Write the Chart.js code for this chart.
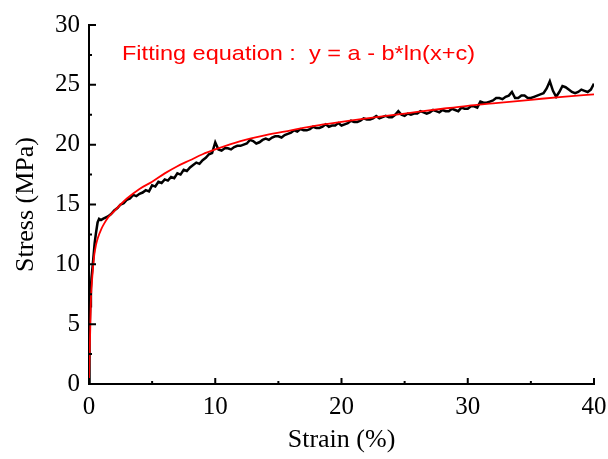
<!DOCTYPE html>
<html>
<head>
<meta charset="utf-8">
<script src="https://cdn.jsdelivr.net/npm/chart.js"></script>
<style>
  body { margin: 0; background: #fff; }
</style>
</head>
<body>
<canvas id="chart" width="608" height="459"></canvas>
<script>
// measured stress-strain curve (noisy, black)
const strainTest = [0, 0.03, 0.05, 0.1, 0.15, 0.2, 0.3, 0.36, 0.45, 0.55, 0.68, 0.8, 0.95, 1.1, 1.3, 1.5, 1.75,
  2, 2.25, 2.5, 2.75, 3, 3.25, 3.5, 3.75, 4, 4.25, 4.5, 4.75, 5, 5.25, 5.5, 5.75, 6, 6.25, 6.5, 6.75,
  7, 7.25, 7.5, 7.75, 8, 8.25, 8.5, 8.75, 9, 9.25, 9.5, 9.75, 10, 10.25, 10.5, 10.75, 11, 11.25, 11.5, 11.75,
  12, 12.25, 12.5, 12.75, 13, 13.25, 13.5, 13.75, 14, 14.25, 14.5, 14.75, 15, 15.25, 15.5, 15.75,
  16, 16.25, 16.5, 16.75, 17, 17.25, 17.5, 17.75, 18, 18.25, 18.5, 18.75, 19, 19.25, 19.5, 19.75,
  20, 20.25, 20.5, 20.75, 21, 21.25, 21.5, 21.75, 22, 22.25, 22.5, 22.75, 23, 23.25, 23.5, 23.75,
  24, 24.25, 24.5, 24.75, 25, 25.25, 25.5, 25.75, 26, 26.25, 26.5, 26.75, 27, 27.25, 27.5, 27.75,
  28, 28.25, 28.5, 28.75, 29, 29.25, 29.5, 29.75, 30, 30.25, 30.5, 30.75, 31, 31.25, 31.5, 31.75,
  32, 32.25, 32.5, 32.75, 33, 33.25, 33.5, 33.75, 34, 34.25, 34.5, 34.75, 35, 35.25, 35.5, 35.75,
  36, 36.25, 36.5, 36.75, 37, 37.25, 37.5, 37.75, 38, 38.25, 38.5, 38.75, 39, 39.25, 39.5, 39.75, 40];
const stressTest = [0, 2.0, 4.3, 6.5, 8.0, 8.9, 10.0, 10.7, 11.8, 12.6, 13.5, 13.8, 13.7, 13.8, 13.9, 14.0, 14.2,
  14.5, 14.7, 15.0, 15.1, 15.4, 15.5, 15.8, 15.7, 15.9, 16.0, 16.2, 16.1, 16.6, 16.5, 16.9, 16.8, 17.1, 17.0, 17.3, 17.2,
  17.6, 17.5, 17.9, 17.8, 18.1, 18.3, 18.5, 18.4, 18.7, 18.9, 19.2, 19.3, 20.2, 19.6, 19.5, 19.7, 19.7, 19.6, 19.8, 19.9,
  19.9, 20.0, 20.1, 20.4, 20.3, 20.1, 20.2, 20.4, 20.5, 20.4, 20.6, 20.7, 20.7, 20.6, 20.8, 20.9,
  21.0, 21.2, 21.1, 21.3, 21.2, 21.2, 21.3, 21.5, 21.4, 21.4, 21.5, 21.7, 21.5, 21.6, 21.6, 21.8,
  21.6, 21.7, 21.8, 22.0, 21.9, 21.9, 22.0, 22.2, 22.1, 22.1, 22.2, 22.4, 22.2, 22.3, 22.4, 22.3,
  22.3, 22.5, 22.8, 22.5, 22.4, 22.6, 22.5, 22.6, 22.6, 22.8, 22.7, 22.6, 22.7, 22.9, 22.8, 22.7,
  22.9, 22.8, 22.8, 23.0, 22.9, 22.8, 23.1, 23.0, 23.0, 23.2, 23.2, 23.1, 23.6, 23.5, 23.5, 23.6,
  23.7, 23.9, 23.9, 23.8, 24.0, 24.1, 24.4, 23.9, 23.9, 24.1, 24.1, 23.9, 23.9, 24.0, 24.1, 24.2,
  24.3, 24.7, 25.3, 24.5, 24.0, 24.4, 24.9, 24.8, 24.6, 24.4, 24.3, 24.4, 24.6, 24.5, 24.4, 24.6, 25.1];

// fitted curve (red)
const strainFit = [0, 0.03, 0.06, 0.1, 0.15, 0.2, 0.3, 0.42, 0.55, 0.7, 1, 1.2, 1.5, 2, 2.5, 3, 4, 5, 6, 7, 8, 9, 10,
  12, 14, 16, 18, 20, 22, 25, 28, 30, 32, 35, 37.5, 40];
const stressFit = [0, 1.5, 3.0, 4.6, 7.0, 8.0, 9.5, 10.8, 11.6, 12.2, 13.0, 13.4, 13.9, 14.45, 15.0, 15.5, 16.3, 16.9, 17.6, 18.2, 18.7, 19.2, 19.6,
  20.3, 20.8, 21.2, 21.6, 21.9, 22.2, 22.6, 23.0, 23.25, 23.45, 23.75, 24.0, 24.2];

const xMajor = [0, 10, 20, 30, 40];
const xMinor = [5, 15, 25, 35];
const yMajor = [0, 5, 10, 15, 20, 25, 30];
const yMinor = [2.5, 7.5, 12.5, 17.5, 22.5, 27.5];

const fitLabel = 'Fitting equation :  y = a - b*ln(x+c)';

const toPoints = (xs, ys) => xs.map((x, i) => ({ x: x, y: ys[i] }));

// inward ticks + annotation text
const extras = {
  id: 'extras',
  afterDraw(chart) {
    const ctx = chart.ctx;
    const xs = chart.scales.x, ys = chart.scales.y;
    const area = chart.chartArea;
    ctx.save();
    ctx.strokeStyle = '#000';
    ctx.lineWidth = 2;
    ctx.beginPath();
    xMajor.forEach(v => { const p = xs.getPixelForValue(v); ctx.moveTo(p, area.bottom); ctx.lineTo(p, area.bottom - 6); });
    xMinor.forEach(v => { const p = xs.getPixelForValue(v); ctx.moveTo(p, area.bottom); ctx.lineTo(p, area.bottom - 3); });
    yMajor.forEach(v => { const p = ys.getPixelForValue(v); ctx.moveTo(area.left, p); ctx.lineTo(area.left + 7, p); });
    yMinor.forEach(v => { const p = ys.getPixelForValue(v); ctx.moveTo(area.left, p); ctx.lineTo(area.left + 3, p); });
    ctx.stroke();

    // the reference text is a bit wider than plain Arial
    ctx.fillStyle = '#ff0000';
    ctx.font = '21px "Liberation Sans", Arial, sans-serif';
    ctx.textBaseline = 'alphabetic';
    ctx.translate(122, 60);
    ctx.scale(1.12, 1);
    ctx.fillText(fitLabel, 0, 0);
    ctx.restore();
  }
};

new Chart(document.getElementById('chart').getContext('2d'), {
  type: 'line',
  data: {
    datasets: [
      {
        label: 'Fit',
        data: toPoints(strainFit, stressFit),
        borderColor: '#ff0000',
        borderWidth: 1.8,
        pointRadius: 0,
        cubicInterpolationMode: 'monotone',
        fill: false
      },
      {
        label: 'Test',
        data: toPoints(strainTest, stressTest),
        borderColor: '#000000',
        borderWidth: 2.5,
        pointRadius: 0,
        tension: 0,
        fill: false
      }
    ]
  },
  options: {
    responsive: false,
    animation: false,
    devicePixelRatio: 1,
    layout: { padding: { left: 0, right: 14, top: 25, bottom: 0 } },
    plugins: { legend: { display: false }, tooltip: { enabled: false } },
    scales: {
      x: {
        type: 'linear',
        min: 0, max: 40,
        afterFit(s) { s.height = 75; s.paddingLeft = 0; s.paddingRight = 0; },
        grid: { display: false, drawTicks: false },
        border: { display: true, color: '#000', width: 2 },
        ticks: {
          stepSize: 10, padding: 8, color: '#000',
          font: { family: '"Liberation Serif", "Times New Roman", serif', size: 25 }
        },
        title: {
          display: true, text: 'Strain (%)', color: '#000',
          padding: { top: 0, bottom: 3 },
          font: { family: '"Liberation Serif", "Times New Roman", serif', size: 26 }
        }
      },
      y: {
        min: 0, max: 30,
        afterFit(s) { s.width = 89; s.paddingTop = 0; s.paddingBottom = 0; },
        grid: { display: false, drawTicks: false },
        border: { display: true, color: '#000', width: 2 },
        ticks: {
          stepSize: 5, padding: 9, color: '#000',
          font: { family: '"Liberation Serif", "Times New Roman", serif', size: 25 }
        },
        title: {
          display: true, text: 'Stress (MPa)', color: '#000',
          padding: { top: 11, bottom: 0 },
          font: { family: '"Liberation Serif", "Times New Roman", serif', size: 26 }
        }
      }
    }
  },
  plugins: [extras]
});
</script>
</body>
</html>
